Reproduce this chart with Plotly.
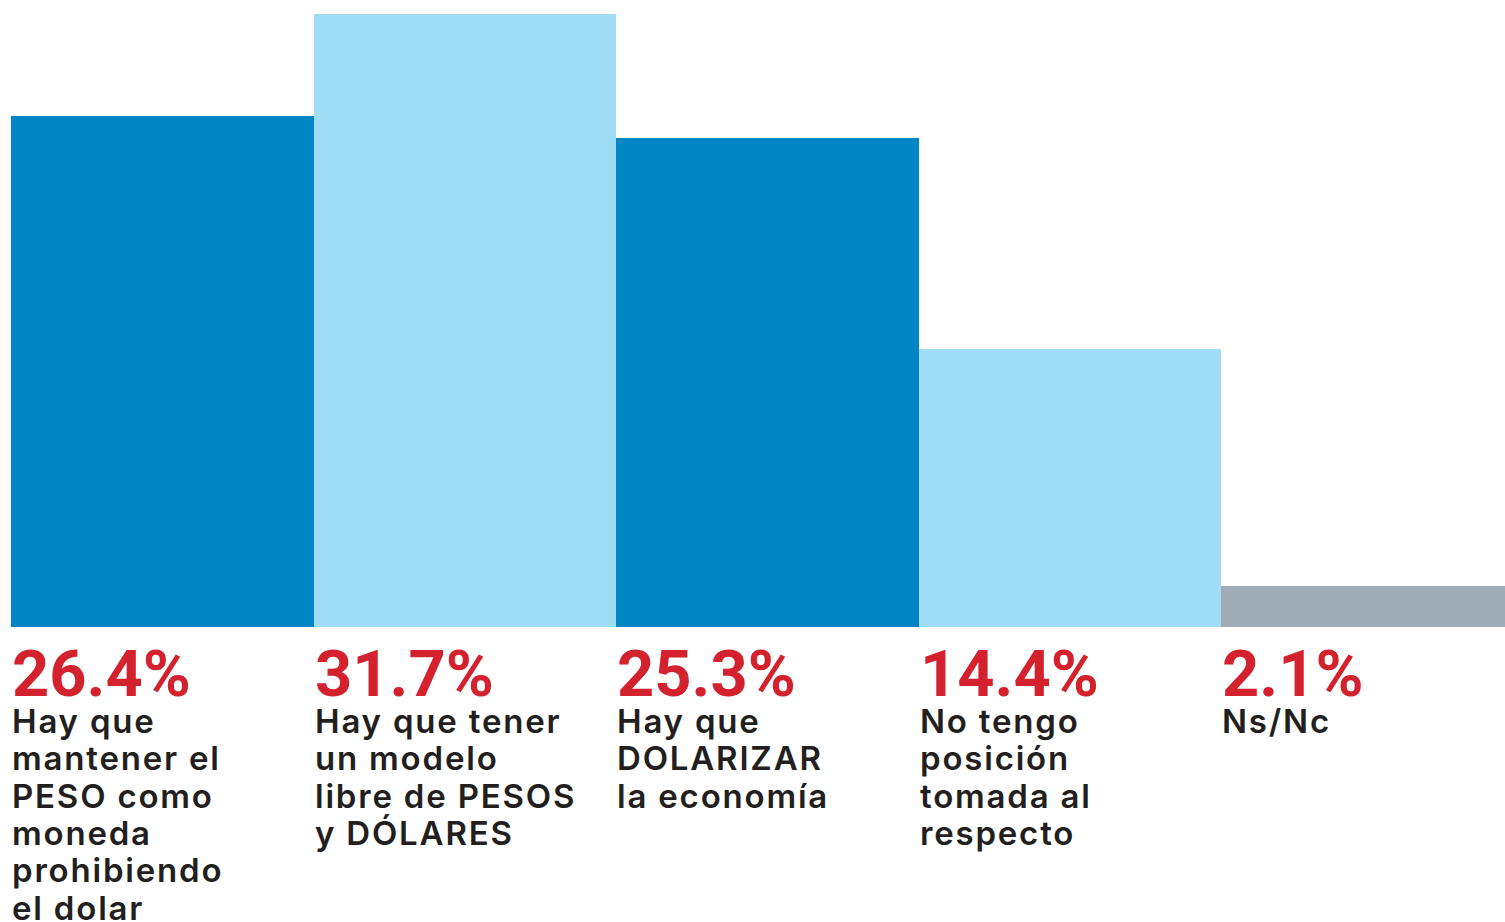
import plotly.graph_objects as go

categories = ["Mantener PESO", "Modelo libre", "Dolarizar", "Sin posición", "Ns/Nc"]
values = [26.4, 31.7, 25.3, 14.4, 2.1]
descriptions = [
    ["Hay que", "mantener el", "PESO como", "moneda", "prohibiendo", "el dolar"],
    ["Hay que tener", "un modelo", "libre de PESOS", "y DÓLARES"],
    ["Hay que", "DOLARIZAR", "la economía"],
    ["No tengo", "posición", "tomada al", "respecto"],
    ["Ns/Nc"],
]
bar_colors = ["#0086C5", "#9FDDF7", "#0086C5", "#9FDDF7", "#A0ADB6"]

W, H = 1505, 922
base_px = 627
plot_top_px = 14
ymax = values[1] * base_px / (base_px - plot_top_px)

fig = go.Figure()
fig.add_trace(go.Bar(
    x=list(range(len(values))), y=values,
    marker=dict(color=bar_colors, line=dict(width=0)),
    width=1.0, hoverinfo="skip",
))

annotations = []
for i, (v, lines) in enumerate(zip(values, descriptions)):
    annotations.append(dict(
        x=i - 0.5, xref="x", y=0, yref="paper", xanchor="left", yanchor="top",
        text=f"<b>{v}%</b>", showarrow=False, xshift=-1, yshift=-7,
        font=dict(family="Roboto", size=65, color="#D3222D"),
    ))
    for k, line in enumerate(lines):
        annotations.append(dict(
            x=i - 0.5, xref="x", y=0, yref="paper", xanchor="left", yanchor="top",
            text=f"<span style='letter-spacing:1.8px'>{line}</span>",
            showarrow=False, xshift=-1,
            yshift=-(72 + 37.3 * k),
            font=dict(family="Inter", size=33, color="#231F20", weight=600),
        ))

px_per_unit = 302.5
x_right = -0.5 + (W - 11) / px_per_unit

fig.update_layout(
    width=W, height=H,
    margin=dict(l=11, r=0, t=0, b=H - base_px, pad=0),
    paper_bgcolor="white", plot_bgcolor="white",
    bargap=0, showlegend=False,
    xaxis=dict(range=[-0.5, x_right], visible=False, fixedrange=True),
    yaxis=dict(range=[0, ymax], visible=False, fixedrange=True),
    annotations=annotations,
)
fig.write_html(
    "out.html",
    config=dict(displayModeBar=False),
    post_script="document.body.style.margin='0';document.body.style.overflow='hidden';",
)
